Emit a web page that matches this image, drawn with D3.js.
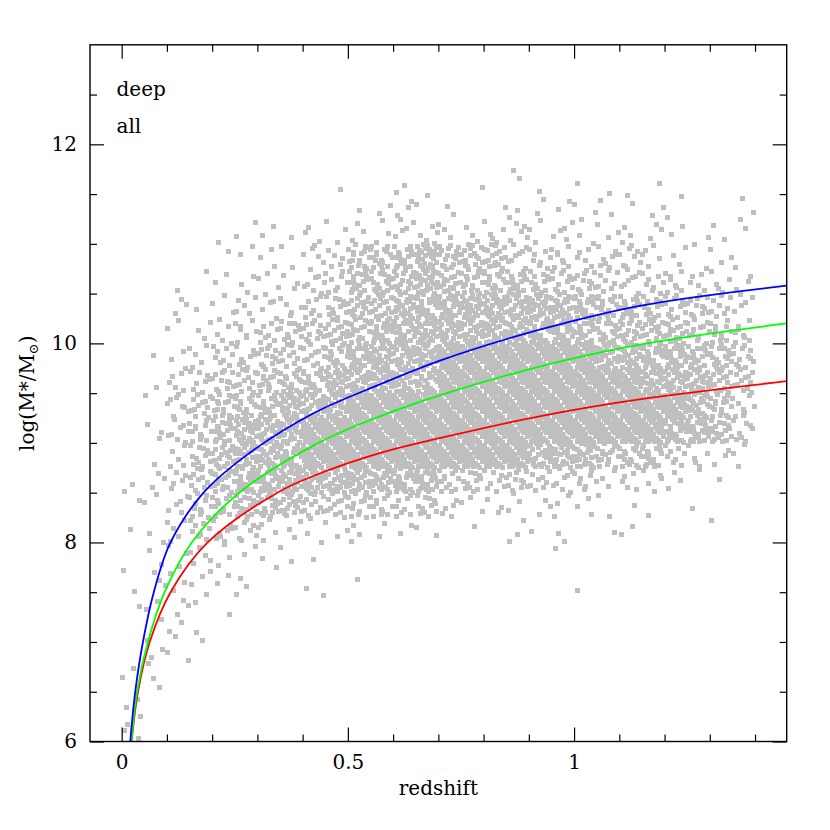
<!DOCTYPE html>
<html>
<head>
<meta charset="utf-8">
<script src="https://cdn.jsdelivr.net/npm/d3@7"></script>
<style>
  body { margin: 0; background: #fff; }
  text { font-family: "DejaVu Serif", serif; fill: #000; }
</style>
</head>
<body>
<script>
var width = 830,
    height = 830;

// plot box in pixels
var boxLeft = 90, boxRight = 786.7, boxTop = 44.8, boxBottom = 741.5;

// galaxy sample, binned: lower edge of each redshift bin (width 0.05)
var zBins = [0, 0.05, 0.1, 0.15, 0.2, 0.25, 0.3, 0.35, 0.4, 0.45, 0.5, 0.55, 0.6, 0.65,
             0.7, 0.75, 0.8, 0.85, 0.9, 0.95, 1.0, 1.05, 1.1, 1.15, 1.2, 1.25, 1.3, 1.35];
// lower edge of each log mass bin (width 0.25), top row first
var mBins = [11.75, 11.5, 11.25, 11, 10.75, 10.5, 10.25, 10, 9.75, 9.5, 9.25, 9,
             8.75, 8.5, 8.25, 8, 7.75, 7.5, 7.25, 7, 6.75, 6.5, 6.25, 6];
// density level per bin (one digit per redshift bin)
var density = [
  "0000000000000000000000000000",
  "0000000001002001021011010000",
  "0000000000123220122222222002",
  "0000122133334433443433332122",
  "0000123244777877755545543231",
  "0011233355777877776665555443",
  "0031344456778888888887766654",
  "0023455667788888888877777665",
  "0134556667888899999998888776",
  "0145667778888899999999988876",
  "0156777888999999999999999875",
  "0356788899999999999999998875",
  "0146788899999999998887775433",
  "2346788888888866565553443110",
  "1246677766665643333332110100",
  "1245554333322201031201200010",
  "0234322210000000000100000000",
  "2333220010100000000010000000",
  "1232110010000000000000000000",
  "0232000000000000000000000000",
  "0320000000000000000000000000",
  "2200000000000000000000000000",
  "3000000000000000000000000000",
  "3000000000000000000000000000"
];
// galaxies per bin for each density level
var levelCount = [0, 1, 2, 3, 5, 8, 12, 17, 25, 36];
// where the galaxies of one bin sit inside it (fractions of the bin)
var stipple = [[0.5,0.33],[0.25,0.67],[0.75,0.11],[0.13,0.44],[0.63,0.78],[0.38,0.22],
  [0.88,0.56],[0.06,0.89],[0.56,0.04],[0.31,0.37],[0.81,0.7],[0.19,0.15],[0.69,0.48],
  [0.44,0.81],[0.94,0.26],[0.03,0.59],[0.53,0.93],[0.28,0.07],[0.78,0.41],[0.16,0.74],
  [0.66,0.19],[0.41,0.52],[0.91,0.85],[0.09,0.3],[0.59,0.63],[0.34,0.96],[0.84,0.01],
  [0.22,0.35],[0.72,0.68],[0.47,0.12],[0.97,0.46],[0.02,0.79],[0.52,0.24],[0.27,0.57],
  [0.77,0.9],[0.14,0.05]];

// mass completeness limits [z, log M]
var limitBlue = [[0.019,6.0],[0.030,6.5],[0.047,7.0],[0.071,7.5],[0.108,8.0],[0.181,8.5],
  [0.277,8.88],[0.425,9.30],[0.572,9.59],[0.705,9.83],[0.926,10.14],[1.148,10.38],[1.47,10.58]];
var limitGreen = [[0.022,6.0],[0.034,6.5],[0.058,7.0],[0.095,7.5],[0.155,8.0],[0.26,8.5],
  [0.435,9.0],[0.572,9.27],[0.705,9.48],[0.926,9.77],[1.148,9.99],[1.47,10.20]];
var limitRed = [[0.022,6.0],[0.036,6.5],[0.062,7.0],[0.108,7.5],[0.19,8.0],[0.344,8.5],
  [0.425,8.67],[0.572,8.90],[0.705,9.05],[0.926,9.27],[1.148,9.44],[1.47,9.62]];

var xMajor = [0, 0.5, 1],
    xMinor = [0.1, 0.2, 0.3, 0.4, 0.6, 0.7, 0.8, 0.9, 1.1, 1.2, 1.3, 1.4],
    yMajor = [6, 8, 10, 12],
    yMinor = [6.5, 7, 7.5, 8.5, 9, 9.5, 10.5, 11, 11.5, 12.5];

var x = d3.scaleLinear().domain([-0.07, 1.47]).range([boxLeft, boxRight]);
var y = d3.scaleLinear().domain([6, 13]).range([boxBottom, boxTop]);

var svg = d3.select("body")
  .append("svg")
  .attr("width", width)
  .attr("height", height);

svg.append("rect").attr("width", width).attr("height", height).attr("fill", "#fff");

svg.append("clipPath").attr("id", "plot")
  .append("rect")
  .attr("x", boxLeft).attr("y", boxTop)
  .attr("width", boxRight - boxLeft).attr("height", boxBottom - boxTop);

// unpack the binned sample into individual galaxies
var galaxies = [];
density.forEach(function(row, j) {
  row.split("").forEach(function(c, k) {
    var n = levelCount[+c],
        start = (k * 5 + j * 11) % stipple.length;
    for (var i = 0; i < n; i++) {
      var s = stipple[(start + i) % stipple.length];
      galaxies.push({z: zBins[k] + s[0] * 0.05, m: mBins[j] + s[1] * 0.25});
    }
  });
});

var plot = svg.append("g").attr("clip-path", "url(#plot)");

plot.append("g")
    .attr("class", "galaxies")
  .selectAll("rect")
  .data(galaxies)
  .enter().append("rect")
    .attr("x", function(d) { return x(d.z) - 2.5; })
    .attr("y", function(d) { return y(d.m) - 2.5; })
    .attr("width", 5)
    .attr("height", 5)
    .attr("fill", "#bfbfbf")
    .attr("shape-rendering", "crispEdges");

var line = d3.line()
  .x(function(d) { return x(d[0]); })
  .y(function(d) { return y(d[1]); })
  .curve(d3.curveCatmullRom.alpha(0.5));

[[limitRed, "#ff0000"], [limitGreen, "#00ff00"], [limitBlue, "#0000ff"]].forEach(function(c) {
  plot.append("path")
    .datum(c[0])
    .attr("d", line)
    .attr("fill", "none")
    .attr("stroke", c[1])
    .attr("stroke-width", 1.8);
});

// ticks on all four sides, pointing inwards
function ticks(axis, values, size, labels) {
  return axis.tickValues(values).tickSize(-size).tickPadding(13)
    .tickFormat(labels ? d3.format("") : "");
}

function addAxis(axis, tx, ty) {
  var g = svg.append("g")
    .attr("transform", "translate(" + tx + "," + ty + ")")
    .call(axis);
  g.select(".domain").remove();
  g.selectAll("line").attr("stroke", "#000").attr("stroke-width", 1.2);
  g.selectAll("text").attr("font-size", 20).attr("font-family", "DejaVu Serif");
  return g;
}

addAxis(ticks(d3.axisBottom(x), xMajor, 14, true), 0, boxBottom);
addAxis(ticks(d3.axisBottom(x), xMinor, 7, false), 0, boxBottom);
addAxis(ticks(d3.axisTop(x), xMajor, 14, false), 0, boxTop);
addAxis(ticks(d3.axisTop(x), xMinor, 7, false), 0, boxTop);
addAxis(ticks(d3.axisLeft(y), yMajor, 14, true), boxLeft, 0);
addAxis(ticks(d3.axisLeft(y), yMinor, 7, false), boxLeft, 0);
addAxis(ticks(d3.axisRight(y), yMajor, 14, false), boxRight, 0);
addAxis(ticks(d3.axisRight(y), yMinor, 7, false), boxRight, 0);

svg.append("rect")
  .attr("x", boxLeft).attr("y", boxTop)
  .attr("width", boxRight - boxLeft).attr("height", boxBottom - boxTop)
  .attr("fill", "none")
  .attr("stroke", "#000")
  .attr("stroke-width", 1.4);

svg.append("text")
  .attr("x", 116.5).attr("y", 95.7)
  .attr("font-size", 20)
  .text("deep");

svg.append("text")
  .attr("x", 116.5).attr("y", 133.3)
  .attr("font-size", 20)
  .text("all");

svg.append("text")
  .attr("x", (boxLeft + boxRight) / 2).attr("y", 795)
  .attr("text-anchor", "middle")
  .attr("font-size", 20)
  .text("redshift");

var ylab = svg.append("text")
  .attr("transform", "translate(33.5," + (boxTop + boxBottom) / 2 + ") rotate(-90)")
  .attr("text-anchor", "middle")
  .attr("font-size", 20);
ylab.append("tspan").text("log(M*/M");
ylab.append("tspan").attr("font-size", 13).attr("dy", 4).text("\u2299");
ylab.append("tspan").attr("dy", -4).text(")");
</script>
</body>
</html>
